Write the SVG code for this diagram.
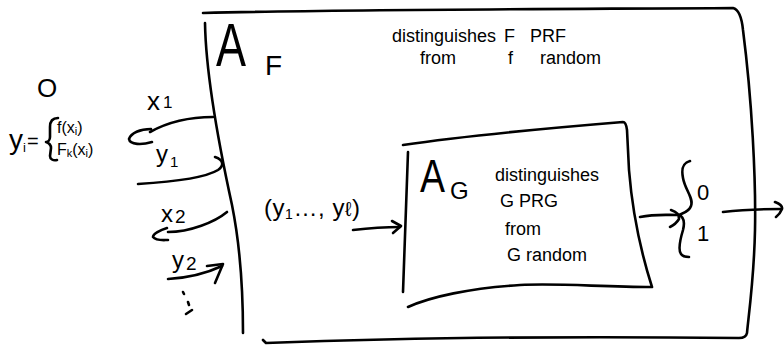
<svg xmlns="http://www.w3.org/2000/svg" width="784" height="349" viewBox="0 0 784 349">
<style>
.s{fill:none;stroke:#000;stroke-width:2.6;stroke-linecap:round;stroke-linejoin:round}
text{font-family:"Liberation Sans","DejaVu Sans",sans-serif;fill:#000}
.t{font-size:18px}
</style>
<rect width="784" height="349" fill="#fff"/>
<g id="oracle">
<text x="37" y="97" font-size="26">O</text>
<text x="9" y="149" font-size="28">y<tspan font-size="13" dy="3">i</tspan><tspan font-size="20" dy="-4" dx="1">=</tspan></text>
<path class="s" d="M58,118 C52,118 50,122 50,127 L50,137 C50,140 48,142 46,142 C49,143 51,145 51,148 L50,156 C50,159 53,161 57,160"/>
<text x="57" y="133" font-size="16">f(x<tspan font-size="11" dy="2">i</tspan><tspan dy="-2">)</tspan></text>
<text x="57" y="155" font-size="16">F<tspan font-size="11" dy="2">k</tspan><tspan dy="-2">(x</tspan><tspan font-size="11" dy="2">i</tspan><tspan dy="-2">)</tspan></text>
</g>
<g id="AF">
<path class="s" d="M203,13 C350,9 600,9 733,8 Q741,10 743,30 C752,100 756,180 755,230 C754,280 748,320 747,333 Q746,338 739,338 C650,337 450,336 266,343 L263,340"/>
<path class="s" d="M205,23 C206,80 220,150 232,205 C240,245 243,290 243,333"/>
<text x="216" y="66" font-size="62" textLength="30" lengthAdjust="spacingAndGlyphs">A</text>
<text x="265" y="75" font-size="28">F</text>
<text class="t" x="392" y="42">distinguishes<tspan x="504">F</tspan><tspan x="530">PRF</tspan></text>
<text class="t" x="420" y="64">from<tspan x="508">f</tspan><tspan x="540">random</tspan></text>
<g id="output">
<path class="s" d="M690,161 C683,163 681,168 683,178 C685,190 694,198 691,206 C689,212 683,213 679,215 C684,217 685,222 683,230 C680,240 678,250 681,254 C683,257 686,257 689,257"/>
<text x="697" y="200" font-size="22">0</text>
<text x="697" y="241" font-size="22">1</text>
</g>
</g>
<g id="AG">
<path class="s" d="M403,145 C450,138 550,128 623,122 Q626,122 627,130 L629,170 C633,220 645,265 652,287 C600,287 560,283 520,285 C470,288 430,297 408,307"/>
<path class="s" d="M408,152 L403,292"/>
<text x="420" y="192" font-size="46" textLength="25" lengthAdjust="spacingAndGlyphs">A</text>
<text x="450" y="199" font-size="24">G</text>
<text class="t" x="495" y="181">distinguishes</text>
<text class="t" x="500" y="207">G PRG</text>
<text class="t" x="505" y="235">from</text>
<text class="t" x="507" y="261">G random</text>
</g>
<g id="labels">
<text x="147" y="110" font-size="26">x<tspan font-size="17" dx="3" dy="-2">1</tspan></text>
<text x="156" y="162" font-size="24">y<tspan font-size="15" dx="2" dy="5">1</tspan></text>
<text x="161" y="222" font-size="24">x<tspan font-size="19" dx="2" dy="1">2</tspan></text>
<text x="172" y="268" font-size="24">y<tspan font-size="19" dx="2" dy="2">2</tspan></text>
<text x="264" y="216" font-size="24" textLength="96">(y<tspan font-size="14" dy="3">1</tspan><tspan dy="-3">…, y</tspan><tspan font-size="20">ℓ</tspan>)</text>
</g>
<g id="connectors">
<path class="s" d="M213,117 C190,117 168,122 150,132"/>
<path class="s" d="M151,129 C140,129 131,133 129,139 C130,145 142,145 152,142"/>
<path class="s" d="M138,184 C170,182 205,178 218,170 C224,166 224,160 215,157"/>
<path class="s" d="M227,212 C215,222 190,232 168,232"/>
<path class="s" d="M167,228 C160,230 153,234 153,237 C156,241 163,240 168,240"/>
<path class="s" d="M168,279 C185,278 205,274 222,266"/>
<path class="s" d="M207,266 L223,264 L215,283"/>
<path class="s" d="M183,292 L184,294 M188,302 L189,305 M186,314 L192,310"/>
<path class="s" d="M353,230 C370,228 385,227 400,227"/>
<path class="s" d="M392,221 L401,226 L393,233"/>
<path class="s" d="M640,217 C655,214 665,215 677,215"/>
<path class="s" d="M671,210 Q680,213 679,219 Q676,224 670,227"/>
<path class="s" d="M723,212 C740,210 760,209 781,209"/>
<path class="s" d="M775,202 Q783,205 782,209 Q780,214 776,217"/>
</g>
</svg>
